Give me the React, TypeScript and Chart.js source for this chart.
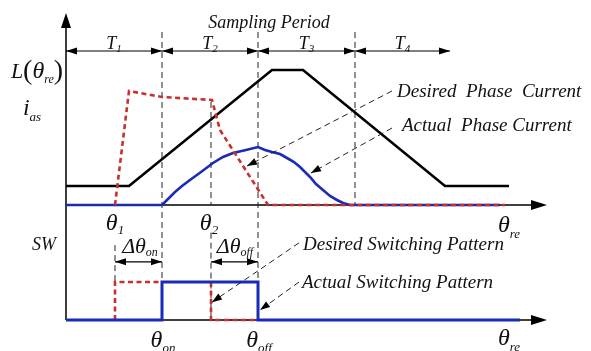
import React, { useEffect, useRef } from "react";
import { Chart, registerables } from "chart.js";

Chart.register(...registerables);

// Electrical angle (0 at the vertical axis), arbitrary units
const periodBounds = [0, 96, 192, 289, 384];
const periodSubs = ["1", "2", "3", "4"];
const theta1 = 49;
const thetaOn = 96;
const theta2 = 145;
const thetaOff = 192;
const xAxisEnd = 481;

// Phase inductance L(θre)
const inductanceTheta = [0, 63, 206, 237, 379, 443];
const inductanceValue = [19, 19, 135, 135, 19, 19];

// Desired phase current (red dashed)
const desiredTheta = [49, 63, 96, 146, 154, 202, 439];
const desiredCurrent = [0, 114, 108, 105, 75, 0, 0];

// Actual phase current (blue)
const actualTheta = [0, 96, 103, 109, 116, 124, 135, 147, 157, 167, 180, 192, 199, 206, 214, 221, 228, 234, 240, 244, 250, 257, 264, 271, 277, 284, 434];
const actualCurrent = [0, 0, 7, 13, 19, 25, 33, 42, 48, 52, 55, 58, 55, 53, 51, 47, 43, 38, 32, 28, 21, 15, 9, 5, 2, 0, 0];

// Switching patterns (0 = off, 1 = on)
const desiredSwTheta = [49, 49, 96, null, 145, 145, 192];
const desiredSwState = [0, 1, 1, null, 1, 0, 0];
const actualSwTheta = [0, 96, 96, 192, 192, 454];
const actualSwState = [0, 0, 1, 1, 0, 0];

const FONT = '"Liberation Serif", "Times New Roman", serif';
const BLUE = "#1a2bb5";
const RED = "#c8302c";

type Part = { t: string; s: number; dy?: number; up?: boolean };

function rich(ctx: CanvasRenderingContext2D, parts: Part[], x: number, y: number, align: "left" | "center") {
  const fonts = parts.map((p) => `${p.up ? "" : "italic "}${p.s}px ${FONT}`);
  let w = 0;
  parts.forEach((p, i) => {
    ctx.font = fonts[i];
    w += ctx.measureText(p.t).width;
  });
  let cx = align === "center" ? x - w / 2 : x;
  ctx.textAlign = "left";
  ctx.textBaseline = "alphabetic";
  ctx.fillStyle = "#111";
  parts.forEach((p, i) => {
    ctx.font = fonts[i];
    ctx.fillText(p.t, cx, y + (p.dy || 0));
    cx += ctx.measureText(p.t).width;
  });
}

function head(ctx: CanvasRenderingContext2D, x: number, y: number, ang: number, len: number, hw: number) {
  ctx.save();
  ctx.translate(x, y);
  ctx.rotate(ang);
  ctx.beginPath();
  ctx.moveTo(0, 0);
  ctx.lineTo(-len, -hw);
  ctx.lineTo(-len, hw);
  ctx.closePath();
  ctx.fillStyle = "#000";
  ctx.fill();
  ctx.restore();
}

function dashed(ctx: CanvasRenderingContext2D, x1: number, y1: number, x2: number, y2: number) {
  ctx.save();
  ctx.strokeStyle = "#222";
  ctx.lineWidth = 1;
  ctx.setLineDash([6, 4]);
  ctx.beginPath();
  ctx.moveTo(x1, y1);
  ctx.lineTo(x2, y2);
  ctx.stroke();
  ctx.restore();
}

function dblArrow(ctx: CanvasRenderingContext2D, x1: number, x2: number, y: number) {
  ctx.save();
  ctx.strokeStyle = "#000";
  ctx.lineWidth = 1.2;
  ctx.beginPath();
  ctx.moveTo(x1, y);
  ctx.lineTo(x2, y);
  ctx.stroke();
  ctx.restore();
  head(ctx, x1, y, Math.PI, 11, 3.5);
  head(ctx, x2, y, 0, 11, 3.5);
}

function callout(ctx: CanvasRenderingContext2D, x1: number, y1: number, x2: number, y2: number) {
  dashed(ctx, x1, y1, x2, y2);
  head(ctx, x2, y2, Math.atan2(y2 - y1, x2 - x1), 10, 3.5);
}

const diagramPlugin = {
  id: "diagram",
  beforeDatasetsDraw(chart: any) {
    const ctx: CanvasRenderingContext2D = chart.ctx;
    const X = (v: number) => chart.scales.x.getPixelForValue(v);
    const Y = (v: number) => chart.scales.y.getPixelForValue(v);
    const S = (v: number) => chart.scales.y2.getPixelForValue(v);
    ctx.save();
    ctx.strokeStyle = "#000";
    ctx.lineWidth = 1.5;
    ctx.beginPath();
    ctx.moveTo(X(0), S(0));
    ctx.lineTo(X(0), Y(180));
    ctx.moveTo(X(0), Y(0));
    ctx.lineTo(X(xAxisEnd - 10), Y(0));
    ctx.moveTo(X(0), S(0));
    ctx.lineTo(X(xAxisEnd - 10), S(0));
    ctx.stroke();
    ctx.restore();
    head(ctx, X(0), Y(192), -Math.PI / 2, 15, 5);
    head(ctx, X(xAxisEnd), Y(0), 0, 16, 5);
    head(ctx, X(xAxisEnd), S(0), 0, 16, 5);

    // vertical guide lines
    dashed(ctx, X(thetaOn), Y(173), X(thetaOn), S(0));
    dashed(ctx, X(thetaOff), Y(173), X(thetaOff), S(0));
    dashed(ctx, X(periodBounds[3]), Y(173), X(periodBounds[3]), Y(0));
    dashed(ctx, X(theta2), Y(103), X(theta2), Y(0));
    dashed(ctx, X(theta2), S(2.3), X(theta2), S(0));
    dashed(ctx, X(theta1), S(1.97), X(theta1), S(1));
  },
  afterDatasetsDraw(chart: any) {
    const ctx: CanvasRenderingContext2D = chart.ctx;
    const X = (v: number) => chart.scales.x.getPixelForValue(v);
    const Y = (v: number) => chart.scales.y.getPixelForValue(v);
    const S = (v: number) => chart.scales.y2.getPixelForValue(v);

    // sampling period arrows
    for (let i = 0; i < periodBounds.length - 1; i++) {
      dblArrow(ctx, X(periodBounds[i]), X(periodBounds[i + 1]), Y(154));
      const mid = (periodBounds[i] + periodBounds[i + 1]) / 2;
      rich(ctx, [{ t: "T", s: 18 }, { t: periodSubs[i], s: 11, dy: 3 }], X(mid), Y(156), "center");
    }
    rich(ctx, [{ t: "Sampling Period", s: 18 }], X(203), Y(177), "center");

    // Δθ arrows
    dblArrow(ctx, X(theta1), X(thetaOn), S(1.53));
    dblArrow(ctx, X(theta2), X(thetaOff), S(1.53));

    // callouts
    callout(ctx, X(326), Y(114), X(181), Y(39));
    callout(ctx, X(326), Y(77), X(245), Y(32));
    callout(ctx, X(233), S(2.03), X(146), S(0.47));
    callout(ctx, X(233), S(1.0), X(194), S(0.26));

    // labels
    rich(ctx, [{ t: "L", s: 22 }, { t: "(", s: 28, up: true, dy: 1 }, { t: "θ", s: 24 }, { t: "re", s: 12, dy: 5 }, { t: ")", s: 28, up: true, dy: 1 }], X(-29), Y(127), "center");
    rich(ctx, [{ t: "i", s: 24 }, { t: "as", s: 13, dy: 6 }], X(-34), Y(90), "center");
    rich(ctx, [{ t: "Desired  Phase  Current", s: 19 }], X(331), Y(108), "left");
    rich(ctx, [{ t: "Actual  Phase Current", s: 19 }], X(336), Y(74), "left");
    rich(ctx, [{ t: "θ", s: 24 }, { t: "re", s: 13, dy: 6 }], X(443), Y(-27), "center");
    rich(ctx, [{ t: "θ", s: 24 }, { t: "1", s: 13, dy: 4 }], X(theta1), Y(-25), "center");
    rich(ctx, [{ t: "θ", s: 24 }, { t: "2", s: 13, dy: 4 }], X(theta2 - 2), Y(-25), "center");
    rich(ctx, [{ t: "SW", s: 18 }], X(-22), S(1.84), "center");
    rich(ctx, [{ t: "Δθ", s: 22 }, { t: "on", s: 12, dy: 3 }], X(74), S(1.76), "center");
    rich(ctx, [{ t: "Δθ", s: 22 }, { t: "off", s: 12, dy: 3 }], X(169), S(1.76), "center");
    rich(ctx, [{ t: "Desired Switching Pattern", s: 19 }], X(237), S(1.84), "left");
    rich(ctx, [{ t: "Actual Switching Pattern", s: 19 }], X(236), S(0.84), "left");
    rich(ctx, [{ t: "θ", s: 24 }, { t: "on", s: 13, dy: 5 }], X(thetaOn + 1), S(-0.71), "center");
    rich(ctx, [{ t: "θ", s: 24 }, { t: "off", s: 13, dy: 5 }], X(thetaOff + 1), S(-0.71), "center");
    rich(ctx, [{ t: "θ", s: 24 }, { t: "re", s: 13, dy: 6 }], X(443), S(-0.66), "center");
  },
};

export default function App() {
  const ref = useRef<HTMLCanvasElement | null>(null);
  useEffect(() => {
    document.body.style.margin = "0";
    const canvas = ref.current!;
    const pts = (xs: (number | null)[], ys: (number | null)[]) =>
      xs.map((x, i) => ({ x: x as any, y: ys[i] as any }));
    const chart = new Chart(canvas, {
      type: "line",
      data: {
        datasets: [
          {
            label: "Desired Phase Current",
            data: pts(desiredTheta, desiredCurrent),
            borderColor: RED,
            borderWidth: 2.6,
            borderDash: [5, 3.5],
            yAxisID: "y",
            order: 0,
          },
          {
            label: "Desired Switching Pattern",
            data: pts(desiredSwTheta, desiredSwState),
            borderColor: RED,
            borderWidth: 2.6,
            borderDash: [5, 3.5],
            yAxisID: "y2",
            order: 3,
            spanGaps: false,
          },
          {
            label: "Actual Phase Current",
            data: pts(actualTheta, actualCurrent),
            borderColor: BLUE,
            borderWidth: 2.6,
            yAxisID: "y",
            order: 1,
          },
          {
            label: "Actual Switching Pattern",
            data: pts(actualSwTheta, actualSwState),
            borderColor: BLUE,
            borderWidth: 3,
            yAxisID: "y2",
            order: 2,
          },
          {
            label: "L(θre)",
            data: pts(inductanceTheta, inductanceValue),
            borderColor: "#000",
            borderWidth: 2.6,
            yAxisID: "y",
            order: 4,
          },
        ],
      },
      options: {
        responsive: false,
        animation: false,
        events: [],
        layout: { padding: 0 },
        elements: { point: { radius: 0 }, line: { tension: 0, fill: false, borderCapStyle: "butt", borderJoinStyle: "miter" } },
        plugins: { legend: { display: false }, tooltip: { enabled: false } },
        scales: {
          x: { type: "linear", min: -66, max: 525, display: false },
          y: { type: "linear", min: -146, max: 205, display: false },
          y2: { type: "linear", min: -31 / 38, max: 320 / 38, display: false },
        },
      },
      plugins: [diagramPlugin],
    });
    return () => chart.destroy();
  }, []);
  return <canvas ref={ref} width={591} height={351} style={{ display: "block" }} />;
}
